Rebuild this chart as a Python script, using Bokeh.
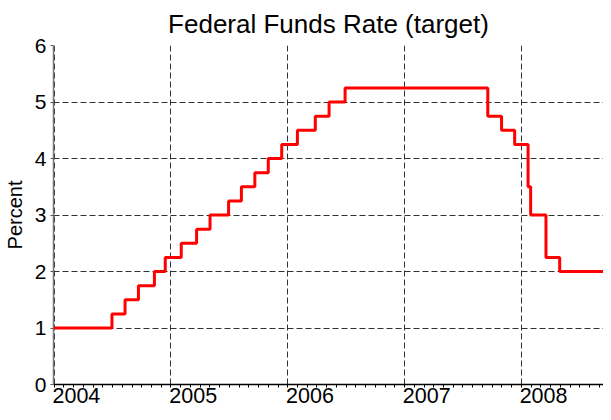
import pandas as pd
from bokeh.plotting import figure
from bokeh.models import FixedTicker, Range1d
from bokeh.embed import file_html
from bokeh.resources import INLINE

# Federal funds target rate changes (date of change, new target in percent)
change_dates = ["2004-01-01", "2004-06-30", "2004-08-10", "2004-09-21", "2004-11-10",
                "2004-12-14", "2005-02-02", "2005-03-22", "2005-05-03", "2005-06-30",
                "2005-08-09", "2005-09-20", "2005-11-01", "2005-12-13", "2006-01-31",
                "2006-03-28", "2006-05-10", "2006-06-29", "2007-09-18", "2007-10-31",
                "2007-12-11", "2008-01-22", "2008-01-30", "2008-03-18", "2008-04-30",
                "2008-09-30"]
target_rate = [1.00, 1.25, 1.50, 1.75, 2.00,
               2.25, 2.50, 2.75, 3.00, 3.25,
               3.50, 3.75, 4.00, 4.25, 4.50,
               4.75, 5.00, 5.25, 4.75, 4.50,
               4.25, 3.50, 3.00, 2.25, 2.00,
               2.00]
year_labels = ["2004", "2005", "2006", "2007", "2008"]
y_ticks = [0, 1, 2, 3, 4, 5, 6]


def frac_year(s):
    d = pd.Timestamp(s)
    start = pd.Timestamp(year=d.year, month=1, day=1)
    end = pd.Timestamp(year=d.year + 1, month=1, day=1)
    return d.year + (d - start) / (end - start)


xs = [frac_year(s) for s in change_dates]
years = [int(y) for y in year_labels]
months = [y + m / 12 for y in range(years[0], years[-1] + 1) for m in range(12)]
# year labels sit just right of each year boundary (left-aligned look)
label_pos = [y + 0.19 for y in years]

p = figure(width=603, height=412, output_backend="svg", toolbar_location=None,
           x_range=Range1d(2003.994, 2008.703), y_range=Range1d(0, 6),
           min_border_left=53, min_border_right=0, min_border_top=43, min_border_bottom=28,
           title="Federal Funds Rate (target)")
p.outline_line_color = None
p.background_fill_color = "white"
p.border_fill_color = "white"

p.title.text_font = "Liberation Sans"
p.title.text_font_size = "26px"
p.title.text_font_style = "normal"
p.title.text_color = "black"
p.title.align = "center"
p.title.standoff = 13

p.step(xs, target_rate, mode="after", line_color="#ff0000", line_width=3)

# x axis: monthly ticks, year labels
xa = p.xaxis[0]
xa.ticker = FixedTicker(ticks=label_pos, minor_ticks=months)
xa.major_label_overrides = {pos: lab for pos, lab in zip(label_pos, year_labels)}
xa.major_label_text_font = "Liberation Sans"
xa.major_label_text_font_size = "21.5px"
xa.major_label_text_color = "black"
xa.major_label_standoff = 0
xa.major_tick_out = 3
xa.major_tick_in = 0
xa.major_tick_line_color = None
xa.minor_tick_out = 3
xa.minor_tick_in = 0
xa.minor_tick_line_color = "black"
xa.axis_line_color = "black"
xa.axis_line_width = 1.5

# y axis
ya = p.yaxis[0]
ya.ticker = FixedTicker(ticks=y_ticks, minor_ticks=[])
ya.axis_label = "Percent"
ya.axis_label_text_font = "Liberation Sans"
ya.axis_label_text_font_size = "20px"
ya.axis_label_text_font_style = "normal"
ya.axis_label_text_color = "black"
ya.axis_label_standoff = 6
ya.major_tick_out = 3
ya.major_tick_in = 0
ya.major_tick_line_color = "#555555"
ya.axis_line_color = "#777777"
ya.axis_line_width = 1.5
ya.major_label_text_font = "Liberation Sans"
ya.major_label_text_font_size = "21px"
ya.major_label_text_color = "black"
ya.major_label_standoff = 4

# grid
p.xgrid.ticker = FixedTicker(ticks=years)
p.ygrid.ticker = FixedTicker(ticks=y_ticks)
for g in (p.xgrid[0], p.ygrid[0]):
    g.grid_line_color = "#333333"
    g.grid_line_dash = "6 3"
    g.grid_line_width = 1

open("out.html", "w").write(file_html(p, INLINE))
